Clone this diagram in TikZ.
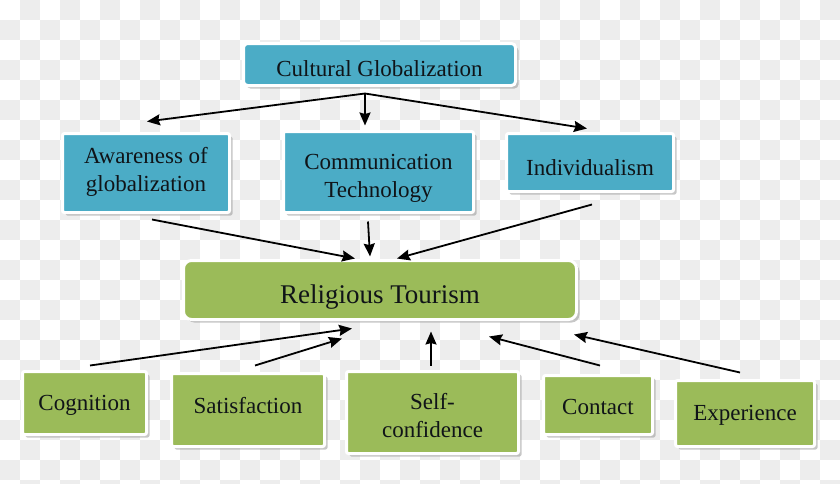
\documentclass[tikz,border=0pt]{standalone}
\usepackage{fontspec}
\setmainfont{Liberation Serif}
\usetikzlibrary{calc,shadows,arrows.meta}
\definecolor{boxblue}{HTML}{4BACC6}
\definecolor{boxgreen}{HTML}{9BBB59}
\definecolor{checker}{HTML}{EDEDED}
\definecolor{txt}{HTML}{101418}
\tikzset{
  basebox/.style={draw=white, line width=3pt, inner sep=0pt,
    drop shadow={shadow xshift=3pt, shadow yshift=-3pt, fill=black!40, opacity=.55}},
  bluebox/.style={basebox, fill=boxblue, rounded corners=2pt},
  greenbox/.style={basebox, fill=boxgreen, rounded corners=2pt},
  lbl/.style={inner sep=0pt, align=center, text=txt, font=\fontsize{23}{28}\selectfont},
  arr/.style={line width=1.8pt, -{Stealth[length=13pt,width=11pt,inset=1.5pt]}}
}
\begin{document}
\begin{tikzpicture}[x=1pt,y=-1pt]
\useasboundingbox (0,0) rectangle (840,483);
\clip (0,0) rectangle (840,483);
% checkerboard background
\foreach \i in {0,...,41}{
  \foreach \j in {0,...,24}{
    \pgfmathtruncatemacro{\odd}{mod(\i+\j,2)}
    \ifnum\odd=1
      \fill[checker] (\i*20,\j*20) rectangle ++(20,20);
    \fi
  }
}
% boxes
\node[bluebox, rounded corners=4pt, minimum width=272, minimum height=42] (cg) at (379.5,64.5) {};
\node[bluebox, minimum width=167, minimum height=79] (aw) at (146,173) {};
\node[bluebox, minimum width=190, minimum height=81] (ct) at (378.5,172) {};
\node[bluebox, minimum width=167, minimum height=58] (in) at (590,162.5) {};
\node[greenbox, rounded corners=8pt, minimum width=393, minimum height=59] (rt) at (380,290) {};
\node[greenbox, minimum width=124, minimum height=63] (cog) at (84.5,403) {};
\node[greenbox, minimum width=153, minimum height=73] (sat) at (248,410) {};
\node[greenbox, minimum width=172, minimum height=82] (sc) at (432.5,412.5) {};
\node[greenbox, minimum width=109, minimum height=59] (con) at (598,405) {};
\node[greenbox, minimum width=139, minimum height=66] (exp) at (745,413.5) {};
% texts
\node[lbl] (cg-t) at ($(cg)+(0,4)$) {Cultural Globalization};
\node[lbl] (aw-t) at ($(aw)+(0,-1)$) {Awareness of\\globalization};
\node[lbl] (ct-t) at ($(ct)+(0,6)$) {Communication\\Technology};
\node[lbl] (in-t) at ($(in)+(0,5)$) {Individualism};
\node[lbl, font=\fontsize{27}{32}\selectfont] (rt-t) at ($(rt)+(0,7)$) {Religious Tourism};
\node[lbl] (cog-t) at ($(cog)+(0,2)$) {Cognition};
\node[lbl] (sat-t) at ($(sat)+(0,-4)$) {Satisfaction};
\node[lbl] (sc-t) at ($(sc)+(0,3)$) {Self-\\confidence};
\node[lbl] (con-t) at ($(con)+(0,2)$) {Contact};
\node[lbl] (exp-t) at ($(exp)+(0,2)$) {Experience};
% connectors
\draw[arr] ($(cg.south)+(-14.5,6.5)$) -- ($(aw.north)+(1,-10.5)$);
\draw[arr] ($(cg.south)+(-14.5,6.5)$) -- ($(ct.north)+(-13.5,-4.5)$);
\draw[arr] ($(cg.south)+(-14.5,6.5)$) -- ($(in.north)+(-3,-3.5)$);
\draw[arr] ($(aw.south)+(6,5.5)$) -- ($(rt.north)+(-25,-0.5)$);
\draw[arr] ($(ct.south)+(-10.5,7.5)$) -- ($(rt.north)+(-10,-2.5)$);
\draw[arr] ($(in.south)+(2,11.5)$) -- ($(rt.north)+(17,-0.5)$);
\draw[arr] ($(cog.north)+(5.5,-4.5)$) -- ($(rt.south)+(-28,7.5)$);
\draw[arr] ($(sat.north)+(7,-6.5)$) -- ($(rt.south)+(-38,17.5)$);
\draw[arr] ($(sc.north)+(-1.5,-4.5)$) -- ($(rt.south)+(51,10.5)$);
\draw[arr] ($(con.north)+(2,-8.5)$) -- ($(rt.south)+(109,15.5)$);
\draw[arr] ($(exp.north)+(-5,-6.5)$) -- ($(rt.south)+(194,13.5)$);
\end{tikzpicture}
\end{document}
